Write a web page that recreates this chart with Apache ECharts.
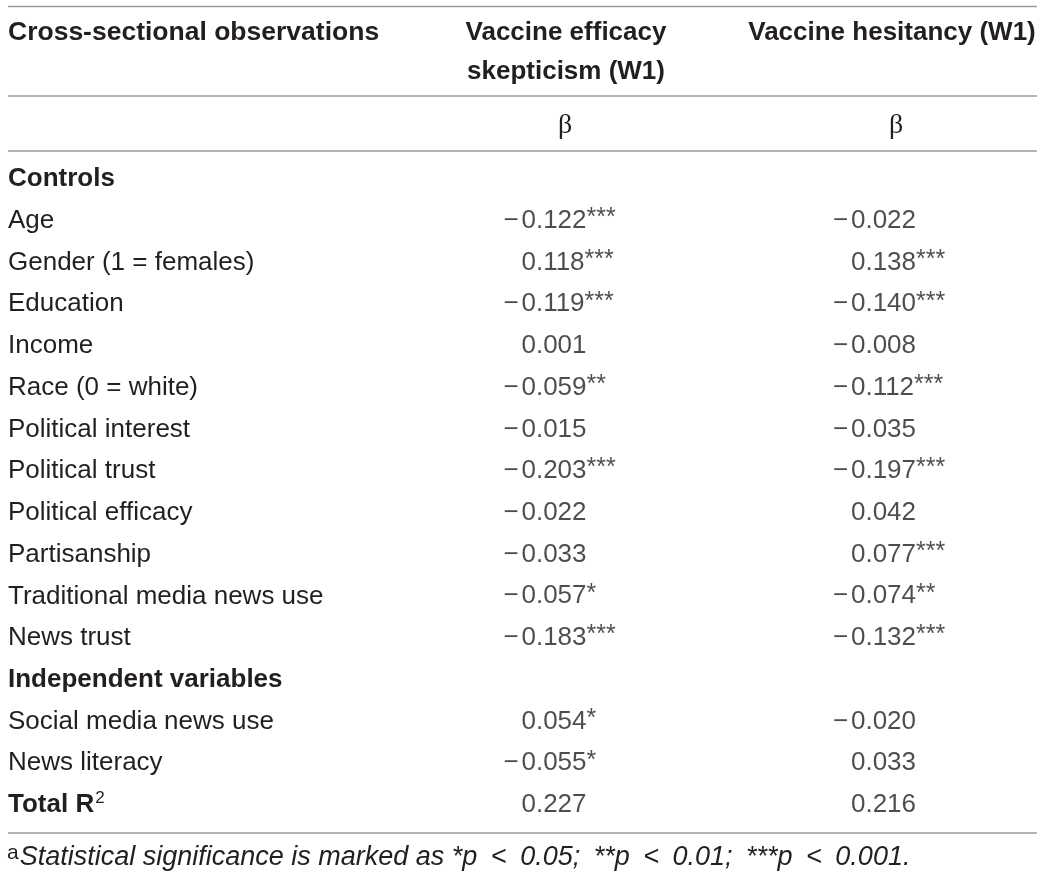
<!DOCTYPE html>
<html>
<head>
<meta charset="utf-8">
<script src="https://cdn.jsdelivr.net/npm/echarts@6/dist/echarts.min.js"></script>
<style>
  html, body { margin: 0; padding: 0; background: #fff; }
  #main { width: 1045px; height: 877px; }
</style>
</head>
<body>
<div id="main"></div>
<script>
// table rows, top to bottom
var rowLabels = ['Controls', 'Age', 'Gender (1 = females)', 'Education', 'Income', 'Race (0 = white)',
  'Political interest', 'Political trust', 'Political efficacy', 'Partisanship',
  'Traditional media news use', 'News trust', 'Independent variables',
  'Social media news use', 'News literacy', 'Total R2'];
var boldRows = ['Controls', 'Independent variables', 'Total R2'];

// columns
var colKeys = ['label', 'efficacy', 'hesitancy'];
var colHeaders = ['Cross-sectional observations', 'Vaccine efficacy\nskepticism (W1)', 'Vaccine hesitancy (W1)'];
var subHeader = 'β';

// standardized coefficients + significance stars (null = section heading)
var efficacyBeta = [null, -0.122, 0.118, -0.119, 0.001, -0.059, -0.015, -0.203, -0.022, -0.033, -0.057, -0.183, null, 0.054, -0.055, 0.227];
var efficacySig  = ['', '***', '***', '***', '', '**', '', '***', '', '', '*', '***', '', '*', '*', ''];
var hesitancyBeta = [null, -0.022, 0.138, -0.140, -0.008, -0.112, -0.035, -0.197, 0.042, 0.077, -0.074, -0.132, null, -0.020, 0.033, 0.216];
var hesitancySig  = ['', '', '***', '***', '', '***', '', '***', '', '***', '**', '***', '', '', '', ''];

var footnote = 'Statistical significance is marked as *p\u2002<\u20020.05;\u2002**p\u2002<\u20020.01;\u2002***p\u2002<\u20020.001.';

var FONT = '"Liberation Sans", Arial, Helvetica, sans-serif';
var INK = '#231f20';
var RULE = '#9a9a9a';

function cellData(col, betas, sigs) {
  var out = [];
  for (var i = 0; i < betas.length; i++) {
    if (betas[i] === null) continue;
    out.push({ value: [col, i], beta: betas[i], sig: sigs[i] });
  }
  return out;
}

function cellText(p) {
  var v = p.data.beta;
  var s = '{m|' + (v < 0 ? '\u2212' : ' ') + '}{n|' + Math.abs(v).toFixed(3) + '}';
  if (p.data.sig) s += '{s|' + p.data.sig + '}';
  return s;
}

var cellLabel = {
  show: true,
  position: [0, 0],
  align: 'left',
  verticalAlign: 'middle',
  offset: [-18, 0],
  formatter: cellText,
  rich: {
    m: { width: 18, fontFamily: FONT, fontSize: 26, color: INK, lineHeight: 30 },
    n: { fontFamily: FONT, fontSize: 26, color: INK, lineHeight: 30 },
    s: { fontFamily: FONT, fontSize: 25, color: INK, lineHeight: 24, verticalAlign: 'top' }
  }
};

function ruleLine(y) {
  return { type: 'line', shape: { x1: 8, y1: y, x2: 1037, y2: y }, style: { stroke: RULE, lineWidth: 1.5 }, silent: true };
}

var chartDom = document.getElementById('main');
var myChart = echarts.init(chartDom, null, { renderer: 'canvas' });

var option = {
  animation: false,
  backgroundColor: '#fff',
  grid: { left: 27.25, right: 29.25, top: 158.1, bottom: 51.1 },
  xAxis: {
    type: 'category',
    data: colKeys,
    show: false
  },
  yAxis: {
    type: 'category',
    data: rowLabels,
    inverse: true,
    axisLine: { show: false },
    axisTick: { show: false },
    splitLine: { show: false },
    axisLabel: {
      interval: 0,
      align: 'left',
      margin: 19.25,
      formatter: function (val) {
        if (val === 'Total R2') return '{b|Total R}{sup|2}';
        if (boldRows.indexOf(val) >= 0) return '{b|' + val + '}';
        return '{r|' + val + '}';
      },
      rich: {
        r: { fontFamily: FONT, fontSize: 26, color: INK, lineHeight: 30 },
        b: { fontFamily: FONT, fontSize: 26, fontWeight: 'bold', color: INK, lineHeight: 30 },
        sup: { fontFamily: FONT, fontSize: 17, color: INK, lineHeight: 17, verticalAlign: 'top', padding: [0, 0, 0, 1] }
      }
    }
  },
  series: [
    {
      name: colHeaders[1],
      type: 'scatter',
      symbolSize: 0.1,
      itemStyle: { color: 'rgba(0,0,0,0)' },
      label: cellLabel,
      silent: true,
      data: cellData(1, efficacyBeta, efficacySig)
    },
    {
      name: colHeaders[2],
      type: 'scatter',
      symbolSize: 0.1,
      itemStyle: { color: 'rgba(0,0,0,0)' },
      label: cellLabel,
      silent: true,
      data: cellData(2, hesitancyBeta, hesitancySig)
    }
  ],
  graphic: [
    ruleLine(6.5),
    ruleLine(96),
    ruleLine(151),
    ruleLine(833),
    {
      type: 'text', x: 8, y: 33,
      style: { text: colHeaders[0], font: 'bold 26.5px ' + FONT, fill: INK, textAlign: 'left', textVerticalAlign: 'middle' }
    },
    {
      type: 'text', x: 566, y: 13.5,
      style: { text: colHeaders[1], font: 'bold 26px ' + FONT, fill: INK, textAlign: 'center', textVerticalAlign: 'top', lineHeight: 39 }
    },
    {
      type: 'text', x: 892, y: 33,
      style: { text: colHeaders[2], font: 'bold 26px ' + FONT, fill: INK, textAlign: 'center', textVerticalAlign: 'middle' }
    },
    {
      type: 'text', x: 565, y: 126,
      style: { text: subHeader, font: '28px "Liberation Serif", "DejaVu Serif", serif', fill: INK, textAlign: 'center', textVerticalAlign: 'middle' }
    },
    {
      type: 'text', x: 896, y: 126,
      style: { text: subHeader, font: '28px "Liberation Serif", "DejaVu Serif", serif', fill: INK, textAlign: 'center', textVerticalAlign: 'middle' }
    },
    {
      type: 'text', x: 7, y: 842.5,
      style: {
        text: '{a|a}{i|' + footnote + '}',
        textVerticalAlign: 'top',
        rich: {
          a: { fontFamily: FONT, fontSize: 21, fill: INK, lineHeight: 20, verticalAlign: 'top', padding: [0, 1, 0, 0] },
          i: { fontFamily: FONT, fontSize: 27, fontStyle: 'italic', fill: INK, lineHeight: 30 }
        }
      }
    }
  ]
};

option && myChart.setOption(option);
</script>
</body>
</html>
